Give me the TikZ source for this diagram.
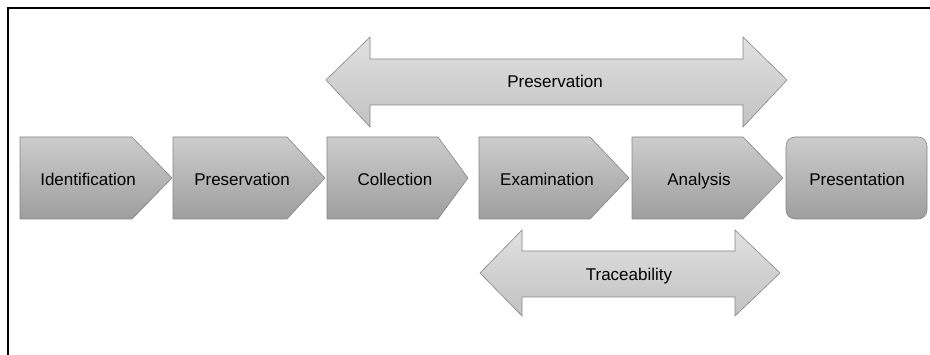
\documentclass[tikz,border=0pt]{standalone}
\usepackage{fontspec}
\setmainfont{Liberation Sans}
\definecolor{stageTop}{gray}{0.80}
\definecolor{stageMid}{gray}{0.70}
\definecolor{stageBot}{gray}{0.62}
\definecolor{spanTop}{gray}{0.88}
\definecolor{spanBot}{gray}{0.76}
\definecolor{edge}{gray}{0.52}
\begin{document}
\begin{tikzpicture}[x=1pt,y=-1pt,
  stage/.style={draw=edge, line width=0.6pt, line join=round,
    top color=stageTop, middle color=stageMid, bottom color=stageBot},
  span/.style={draw=edge, line width=0.6pt, line join=miter,
    top color=spanTop, bottom color=spanBot},
  label/.style={inner sep=0pt, anchor=base, font=\fontsize{17}{20}\selectfont, text=black}]
\useasboundingbox (0,0) rectangle (930,355);

% frame (top and left edges)
\coordinate (fbl) at (8,355);
\coordinate (ftl) at (8,8);
\coordinate (ftr) at (930,8);
\draw[line width=1.3pt] (fbl) -- (ftl) -- (ftr);

% process stages
\path[stage] (20,137) -- (132,137) -- (172,178) -- (132,219) -- (20,219) -- cycle;
\path[stage] (173,137) -- (287,137) -- (325,178) -- (287,219) -- (173,219) -- cycle;
\path[stage] (327,137) -- (438,137) -- (468,178) -- (438,219) -- (327,219) -- cycle;
\path[stage] (479,137) -- (590,137) -- (629,178) -- (590,219) -- (479,219) -- cycle;
\path[stage] (632,137) -- (743,137) -- (783,178) -- (743,219) -- (632,219) -- cycle;
\path[stage, rounded corners=9pt] (786,137) rectangle (927,219);

\node[label] (ident) at (88,186) {Identification};
\node[label] (pres)  at (242,186) {Preservation};
\node[label] (coll)  at (395,186) {Collection};
\node[label] (exam)  at (547,186) {Examination};
\node[label] (anal)  at (699,186) {Analysis};
\node[label] (prsn)  at (857,186) {Presentation};

% spanning double arrows
\path[span] (326,80) -- (370,37) -- (370,59) -- (743,59) -- (743,37) -- (787,80)
  -- (743,127) -- (743,105) -- (370,105) -- (370,127) -- cycle;
\node[label] (presspan) at (555,88) {Preservation};

\path[span] (480,273) -- (522,230) -- (522,251) -- (735,251) -- (735,230) -- (780,273)
  -- (735,316) -- (735,297) -- (522,297) -- (522,316) -- cycle;
\node[label] (trace) at (629,281) {Traceability};
\end{tikzpicture}
\end{document}
